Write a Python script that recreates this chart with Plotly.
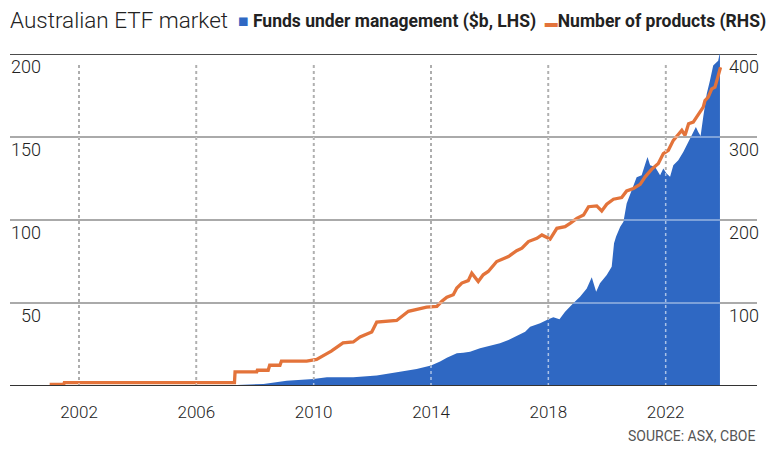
import plotly.graph_objects as go

# Number of ETF products (RHS)
prod_year = [2001.0, 2001.48, 2001.5, 2007.30, 2007.32, 2008.06, 2008.08, 2008.45, 2008.5, 2008.85,
             2008.9, 2009.76, 2010.1, 2010.27, 2010.45, 2010.6, 2010.9, 2011.0, 2011.35, 2011.58,
             2011.98, 2012.15, 2012.83, 2013.23, 2013.85, 2014.2, 2014.37, 2014.54, 2014.76, 2014.88,
             2015.05, 2015.27, 2015.39, 2015.61, 2015.78, 2015.95, 2016.24, 2016.47, 2016.64, 2016.92,
             2017.1, 2017.32, 2017.61, 2017.78, 2018.06, 2018.29, 2018.57, 2018.74, 2018.97, 2019.2,
             2019.37, 2019.65, 2019.82, 2019.99, 2020.22, 2020.5, 2020.67, 2020.9, 2021.13, 2021.3,
             2021.52, 2021.75, 2021.92, 2022.09, 2022.26, 2022.43, 2022.55, 2022.66, 2022.78, 2022.94,
             2023.06, 2023.17, 2023.28, 2023.34, 2023.45, 2023.57, 2023.68, 2023.76, 2023.87]
products = [2, 2, 4, 4, 17, 17, 19, 19, 25, 25,
            30, 30, 32, 35, 39, 42, 50, 52, 53, 59,
            65, 77, 79, 90, 95, 96, 102, 107, 110, 118,
            124, 127, 136, 126, 134, 138, 150, 154, 156, 163,
            166, 174, 178, 182, 177, 190, 192, 196, 202, 206,
            216, 217, 211, 219, 225, 227, 235, 238, 243, 252,
            261, 268, 280, 284, 296, 303, 308, 302, 316, 318,
            324, 330, 336, 344, 348, 358, 360, 370, 384]

# Funds under management, $b (LHS)
fum_year = [2007.30, 2007.38, 2008.29, 2009.08, 2009.99, 2010.45, 2011.35, 2012.15, 2012.94, 2013.51,
            2014.0, 2014.31, 2014.54, 2014.88, 2015.1, 2015.33, 2015.67, 2016.01, 2016.35, 2016.64,
            2016.92, 2017.21, 2017.38, 2017.72, 2018.0, 2018.17, 2018.38, 2018.57, 2018.85, 2019.08,
            2019.31, 2019.48, 2019.63, 2019.76, 2019.99, 2020.16, 2020.24, 2020.31, 2020.45, 2020.56,
            2020.67, 2020.84, 2021.01, 2021.18, 2021.3, 2021.38, 2021.47, 2021.64, 2021.81, 2021.92,
            2022.03, 2022.15, 2022.26, 2022.43, 2022.6, 2022.83, 2022.94, 2023.03, 2023.11, 2023.19,
            2023.28, 2023.4, 2023.51, 2023.62, 2023.79, 2023.85]
fum = [0, 0.6, 1.2, 3.2, 4.2, 5.2, 5.2, 6.4, 8.6, 10.2,
       12.3, 14.7, 17.0, 19.7, 20.1, 20.7, 22.7, 24.1, 25.7, 27.7,
       30.1, 32.7, 35.7, 37.8, 40.2, 41.4, 40.2, 44.8, 49.8, 53.8,
       58.8, 65.5, 56.8, 61.9, 66.9, 71.9, 86, 90, 96, 99,
       110, 118, 125.7, 127, 134, 138, 133, 132, 127, 131,
       128, 126, 133, 136, 141, 149, 153, 156, 153, 150.6,
       162, 176, 184, 193, 196, 201]

year_ticks = [2002, 2006, 2010, 2014, 2018, 2022]
left_ticks = [50, 100, 150, 200]
right_ticks = [100, 200, 300, 400]

BLUE = "#2f68c3"
ORANGE = "#e3733a"

fig = go.Figure()
fig.add_trace(go.Scatter(x=fum_year, y=fum, mode="lines", fill="tozeroy",
                         line=dict(width=0, color=BLUE), fillcolor=BLUE,
                         name="Funds under management ($b, LHS)", showlegend=False))
fig.add_trace(go.Scatter(x=prod_year, y=products, mode="lines", yaxis="y2",
                         line=dict(width=3.3, color=ORANGE),
                         name="Number of products (RHS)", showlegend=False))

# plot area is 38..714 px of the figure; rules stretch from 2 to 749 px
xl, xr = -36 / 676, 1 + 35 / 676

# grid: dark line under the traces plus a half-white one on top,
# so it reads grey on white and pale over the blue area
shapes = []
shapes.append(dict(type="line", xref="paper", yref="y", x0=xl, x1=xr, y0=200, y1=200,
                   line=dict(color="#111", width=1.5), layer="below"))
for v in left_ticks[:-1]:
    for col, lay in [("#4a4a4a", "below"), ("rgba(255,255,255,0.5)", "above")]:
        shapes.append(dict(type="line", xref="paper", yref="y", x0=xl, x1=xr, y0=v, y1=v,
                           line=dict(color=col, width=1.5), layer=lay))
for yr in year_ticks:
    for col, lay in [("#3a3a3a", "below"), ("rgba(255,255,255,0.6)", "above")]:
        shapes.append(dict(type="line", xref="x", yref="paper", x0=yr, x1=yr, y0=0, y1=0.975,
                           line=dict(color=col, width=1.5, dash="dot"), layer=lay))
shapes.append(dict(type="line", xref="paper", yref="y", x0=xl, x1=xr, y0=0, y1=0,
                   line=dict(color="#333", width=2), layer="above"))

legend_text = (f'<span style="color:{BLUE}">■</span> <b>Funds under management ($b, LHS)</b>'
               f'  <span style="color:{ORANGE};font-size:13px">▬</span><b>Number of products (RHS)</b>')

# page body has an 8px margin, so the figure is 8px smaller each way
fig.update_layout(
    width=775, height=446,
    margin=dict(l=38, r=61, t=46, b=68, autoexpand=False),
    paper_bgcolor="white", plot_bgcolor="white",
    font=dict(family="Roboto", size=16, color="#222"),
    title=dict(text="Australian ETF market", x=2 / 775, xref="container", xanchor="left",
               y=1 - 12 / 446, yref="container", yanchor="middle",
               font=dict(family="Roboto", size=22.5, weight=300, color="#222")),
    xaxis=dict(range=[2000.875, 2023.92], tickvals=year_ticks,
               ticktext=[str(y) for y in year_ticks], showgrid=False, zeroline=False,
               showline=False, ticks="", ticklabelstandoff=14, automargin=False,
               tickfont=dict(size=17, weight=300)),
    yaxis=dict(range=[0, 200], tickvals=left_ticks, showgrid=False, zeroline=False,
               showline=False, ticks="", ticklabelshift=13, ticklabelstandoff=4,
               automargin=False, tickfont=dict(size=18, weight=300)),
    yaxis2=dict(range=[0, 400], tickvals=right_ticks, overlaying="y", side="right",
                showgrid=False, zeroline=False, showline=False, ticks="",
                ticklabelshift=13, ticklabelstandoff=6, automargin=False,
                tickfont=dict(size=18, weight=300)),
    shapes=shapes,
    annotations=[
        dict(text=legend_text,
             xref="paper", yref="paper", x=(228 - 38) / 676, y=1 + 33 / 332,
             xanchor="left", yanchor="middle", showarrow=False,
             font=dict(family="Roboto", size=17.5, color="#222")),
        dict(text="SOURCE: ASX, CBOE", xref="paper", yref="paper", x=xr, y=-50 / 332,
             xanchor="right", yanchor="middle", showarrow=False,
             font=dict(family="Roboto", size=14, color="#555")),
    ],
)

fig.write_html("out.html")
